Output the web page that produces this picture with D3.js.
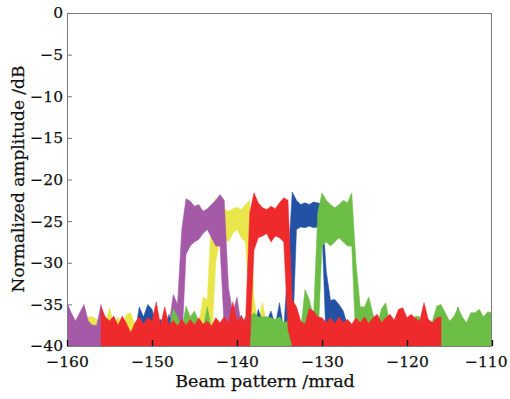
<!DOCTYPE html>
<html><head><meta charset="utf-8">
<script src="https://cdn.jsdelivr.net/npm/d3@7"></script>
<style>body{margin:0;background:#fff}svg{display:block}</style>
</head><body><svg id="c" width="510" height="399"></svg>
<script>
// ---------- data (mrad / dB), sampled every 0.5 mrad ----------
const xTicks = [-160, -150, -140, -130, -120, -110];
const yTicks = [0, -5, -10, -15, -20, -25, -30, -35, -40];
const step = 0.5;
const floorDb = -40;

// yellow beam
const yellowStart = -160;
const yellowHi = [-37.5,-37.5,-38,-37.5,-38,-36.5,-36.5,-36.8,-37.5,-37.5,
  -35.4,-37.5,-36.5,-37.5,-36.2,-36.0,-37.5,-38,-38,-38,
  -38,-38,-38,-38,-38,-38,-38,-38,-38,-38,
  -38,-37.5,-34.1,-34.5,-24.0,-22.2,-22.8,-23.5,-23.8,-23.5,
  -23.3,-23.6,-23.0,-22.5,-34.3,-37.5,-34.7,-37.5,-38,-38,
  -38,-38,-38,-38,-38.5,-38,-38,-38.5,-38,-38,
  -38.5,-38,-38,-38.5,-38,-38,-38.5,-38,-38,-38.5,
  -38,-38,-38.5,-38,-38,-38.5,-38,-38];
const yellowLobeStart = -143;
const yellowLobeLo = [-40,-30,-27,-27,-27.5,-26.5,-26,-27,-27.5,-36];

// purple beam
const purpleStart = -160;
const purpleHi = [-34.8,-36.0,-37.0,-36.0,-35.0,-37.0,-37.5,-37.5,-35.0,-37.5,
  -38,-38,-38.5,-37.5,-38,-38.5,-38,-37.5,-38,-37.5,
  -38,-38,-38,-37.5,-37.5,-33.8,-35.0,-26.0,-22.3,-22.6,
  -23.2,-23.0,-23.8,-23.5,-23.0,-22.5,-21.8,-22.5,-33.0,-36.0,
  -34.1,-37.5,-36.5,-37.5,-38,-37.5,-38,-37.5,-38,-38,
  -37.5,-38,-38,-38,-38.5,-38,-38,-38.5,-38,-38,
  -38.5,-38,-37.5,-37,-35.8,-37.5,-38,-38,-38.5,-38,
  -38,-38.5,-38];
const purpleLobeStart = -146.5;
const purpleLobeLo = [-40,-29,-28,-27.5,-27.2,-26.5,-26,-27,-28,-28,-38];

// blue beam
const blueStart = -152;
const blueHi = [-38.5,-35.3,-36.5,-35.0,-35.6,-37.5,-36.8,-38,-36.2,-38,
  -38,-38,-38,-38,-38.5,-38,-38,-38,-38,-38,
  -38,-38,-38,-38,-38,-36.3,-38,-38,-38,-35.6,
  -37,-37,-35.8,-37.5,-34.8,-38,-30,-21.5,-22.5,-23.0,
  -22.8,-23.0,-22.7,-22.8,-23.0,-31,-34.5,-34.4,-35.0,-35.8,
  -37.5,-38,-38,-38,-38,-38,-38,-38,-38,-38,
  -38,-38,-38,-38,-38,-38,-38,-38,-35.6,-38,
  -38,-38,-38,-36.5,-37.5,-38,-35.3,-38,-38,-38];
const blueLobeStart = -134;
const blueLobeLo = [-40,-40,-26,-25.7,-25.8,-25.6,-25.8,-25.7,-26];

// green beam
const greenStart = -148;
const greenHi = [-38,-35.5,-36.5,-38,-35.2,-36.5,-35.8,-37.0,-38,-35.3,
  -38,-37.0,-38,-38,-38,-38,-38,-38,-38,-36.5,
  -36,-36.5,-36.5,-36.5,-36.6,-36.8,-36.5,-37.2,-37,-38,
  -38,-38,-33.2,-34.4,-36.5,-24.0,-21.6,-22.5,-23.0,-23.4,
  -23.0,-22.5,-22.8,-21.6,-30.0,-35.3,-35.3,-34.1,-36.2,-37.5,
  -35.5,-34.8,-37.5,-38,-38,-38,-38,-38,-36.4,-36.5,
  -38,-38,-37,-35.2,-35.0,-36.0,-37,-36.5,-35.4,-36.5,
  -37.2,-36.0,-36.0,-35.6,-36.5,-35.9,-36.0];
const greenLobeStart = -130.5;
const greenLobeLo = [-40,-28,-27.5,-28,-27.5,-27,-27.5,-28,-28,-40];

// red beam
const redStart = -156;
const redHi = [-35.3,-36.5,-37.0,-36.4,-37.5,-36.4,-37.3,-38.4,-37.2,-36.5,
  -37.4,-36.6,-37.0,-34.7,-37.5,-35.3,-37.5,-36.9,-37.6,-36.8,
  -37.5,-36.8,-37.5,-36.6,-37.4,-37.0,-37.6,-36.6,-37.2,-36.5,
  -37.3,-34.7,-37.0,-36.4,-37.2,-24.0,-21.6,-22.8,-23.4,-23.6,
  -23.2,-23.5,-22.8,-22.2,-22.5,-34.5,-35.3,-37.0,-37.4,-35.5,
  -35.8,-36.5,-36.6,-37.2,-36.6,-37.3,-36.5,-37.2,-36.8,-37.4,
  -36.6,-37.2,-36.5,-37.3,-36.6,-36.2,-37.2,-36.6,-36.2,-36.9,
  -35.6,-35.4,-36.6,-36.2,-36.7,-37.0,-34.8,-36.8,-37.2,-36.6,
  -36.5];
const redLobeStart = -138.5;
const redLobeLo = [-40,-28.5,-27,-26.8,-26.5,-27.5,-26.8,-27,-27.5,-38];

const colors = {yellow:"#e9e64c", purple:"#a55aa8", blue:"#2352a5", green:"#6dbe46", red:"#ee2a2c"};

// ---------- layout ----------
const svg = d3.select("#c");
const L = 67, R = 492, T = 13, B = 346;
const x = d3.scaleLinear().domain([-160, -110]).range([L, R]);
const y = d3.scaleLinear().domain([-40, 0]).range([B, T]);
const serif = "'DejaVu Serif', 'Liberation Serif', serif";
const ink = "#111";

svg.append("rect").attr("width", 510).attr("height", 399).attr("fill", "#fff");
svg.append("clipPath").attr("id", "clip").append("rect")
  .attr("x", L).attr("y", T).attr("width", R - L).attr("height", B - T);

function build(start, hi, lobeStart, lobeLo) {
  return hi.map((v, i) => {
    const xv = start + i * step;
    const j = Math.round((xv - lobeStart) / step);
    const lo = (j >= 0 && j < lobeLo.length) ? lobeLo[j] : floorDb;
    return {x: xv, hi: v, lo: lo};
  });
}
const series = [
  {c: colors.yellow, d: build(yellowStart, yellowHi, yellowLobeStart, yellowLobeLo)},
  {c: colors.purple, d: build(purpleStart, purpleHi, purpleLobeStart, purpleLobeLo)},
  {c: colors.blue,   d: build(blueStart, blueHi, blueLobeStart, blueLobeLo)},
  {c: colors.green,  d: build(greenStart, greenHi, greenLobeStart, greenLobeLo)},
  {c: colors.red,    d: build(redStart, redHi, redLobeStart, redLobeLo)}
];
const area = d3.area().x(d => x(d.x)).y0(d => y(d.lo)).y1(d => y(d.hi));
const g = svg.append("g").attr("clip-path", "url(#clip)");
series.forEach(s => {
  g.append("path").attr("d", area(s.d)).attr("fill", s.c)
    .attr("stroke", s.c).attr("stroke-width", 0.5);
});

// frame
svg.append("rect").attr("x", L + 0.5).attr("y", T + 0.5)
  .attr("width", R - L - 1).attr("height", B - T)
  .attr("fill", "none").attr("stroke", "#7a7a7a").attr("stroke-width", 1);

// axes
const fmt = d => (d < 0 ? "\u2212" : "") + Math.abs(d);
const xa = svg.append("g").attr("transform", `translate(0,${B})`)
  .call(d3.axisBottom(x).tickValues(xTicks).tickFormat(fmt)
    .tickSizeInner(-6).tickSizeOuter(0).tickPadding(10));
xa.select(".domain").remove();
xa.selectAll(".tick line").attr("stroke", "#000").attr("stroke-width", 1.3);
xa.selectAll("text").attr("font-family", serif).attr("font-size", 15.5)
  .attr("fill", ink).attr("stroke", ink).attr("stroke-width", 0.25);
// keep the last label inside the canvas
xa.selectAll(".tick").filter(d => d === xTicks[xTicks.length - 1]).select("text")
  .attr("text-anchor", "end").attr("x", 15);

const ya = svg.append("g").attr("transform", `translate(${L},0)`)
  .call(d3.axisLeft(y).tickValues(yTicks).tickFormat(fmt)
    .tickSizeInner(-5).tickSizeOuter(0).tickPadding(4));
ya.select(".domain").remove();
ya.selectAll(".tick line").attr("stroke", "#777");
ya.selectAll("text").attr("font-family", serif).attr("font-size", 15.5)
  .attr("fill", ink).attr("stroke", ink).attr("stroke-width", 0.25);

// titles
svg.append("text").attr("x", 265).attr("y", 387).attr("text-anchor", "middle")
  .attr("font-family", serif).attr("font-size", 17.5)
  .attr("fill", ink).attr("stroke", ink).attr("stroke-width", 0.25)
  .text("Beam pattern /mrad");
svg.append("text").attr("transform", "translate(24,179) rotate(-90)")
  .attr("text-anchor", "middle")
  .attr("font-family", serif).attr("font-size", 17)
  .attr("fill", ink).attr("stroke", ink).attr("stroke-width", 0.25)
  .text("Normalized amplitude /dB");
</script></body></html>
